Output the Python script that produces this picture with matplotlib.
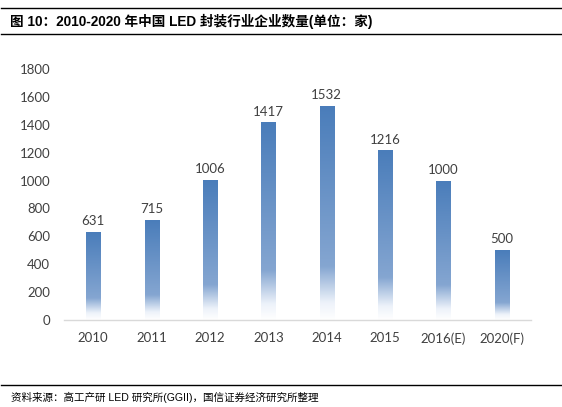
import numpy as np
import matplotlib
matplotlib.use("Agg")
import matplotlib.pyplot as plt
from matplotlib.colors import LinearSegmentedColormap
from matplotlib.lines import Line2D

categories = ["2010", "2011", "2012", "2013", "2014", "2015", "2016(E)", "2020(F)"]
values = [631, 715, 1006, 1417, 1532, 1216, 1000, 500]
yticks = [0, 200, 400, 600, 800, 1000, 1200, 1400, 1600, 1800]
title = "图 10：2010-2020 年中国 LED 封装行业企业数量(单位：家)"
source = "资料来源：高工产研 LED 研究所(GGII)，国信证券经济研究所整理"

W, H = 562, 407
fig = plt.figure(figsize=(W / 100, H / 100), dpi=100)
ax = fig.add_axes([64 / W, 1 - 320 / H, (531 - 64) / W, (320 - 69) / H])

x = np.arange(len(categories))
bars = ax.bar(x, values, width=0.24, color="none", edgecolor="none", zorder=2)

# vertical gradient (top dark blue -> bottom white)
cmap = LinearSegmentedColormap.from_list(
    "grad",
    [(0.0, (1, 1, 1)), (0.08, (0.93, 0.95, 0.98)), (0.25, (0.52, 0.65, 0.82)),
     (1.0, (0.29, 0.49, 0.73))])
grad = np.linspace(0, 1, 256).reshape(-1, 1)
for b in bars:
    x0, w, h = b.get_x(), b.get_width(), b.get_height()
    im = ax.imshow(grad, cmap=cmap, origin="lower", aspect="auto",
                   extent=[x0, x0 + w, 0, h], zorder=2, interpolation="bilinear")
    im.set_clip_path(b)

for xi, v in zip(x, values):
    ax.text(xi, v + 35, str(v), ha="center", va="bottom", fontsize=9.5,
            color="#404040", family=["Lato", "DejaVu Sans"])

ax.set_xlim(-0.5, len(categories) - 0.5)
ax.set_ylim(0, 1800)
ax.set_yticks(yticks)
ax.set_xticks(x)
ax.set_xticklabels(categories)
for lab in ax.get_xticklabels() + ax.get_yticklabels():
    lab.set_family(["Lato", "DejaVu Sans"])
    lab.set_fontsize(9.5)
    lab.set_color("#404040")
ax.tick_params(axis="y", length=0, pad=10)
ax.tick_params(axis="x", length=0, pad=9)
for s in ["top", "right", "left"]:
    ax.spines[s].set_visible(False)
ax.spines["bottom"].set_color("#D9D9D9")
ax.spines["bottom"].set_linewidth(1.0)

# header / footer lines
for yy in [8, 34, 385]:
    fig.add_artist(Line2D([1 / W, 561 / W], [1 - yy / H, 1 - yy / H],
                          color="black", linewidth=1.0, transform=fig.transFigure))

fig.text(10 / W, 1 - 21.5 / H, title, ha="left", va="center", fontsize=9.8,
         fontweight="bold", family=["Liberation Sans", "Noto Sans CJK SC"])
fig.text(11 / W, 1 - 397 / H, source, ha="left", va="center", fontsize=7.6,
         family=["Liberation Sans", "Noto Sans CJK SC"])

fig.savefig("out.png", dpi=100)
